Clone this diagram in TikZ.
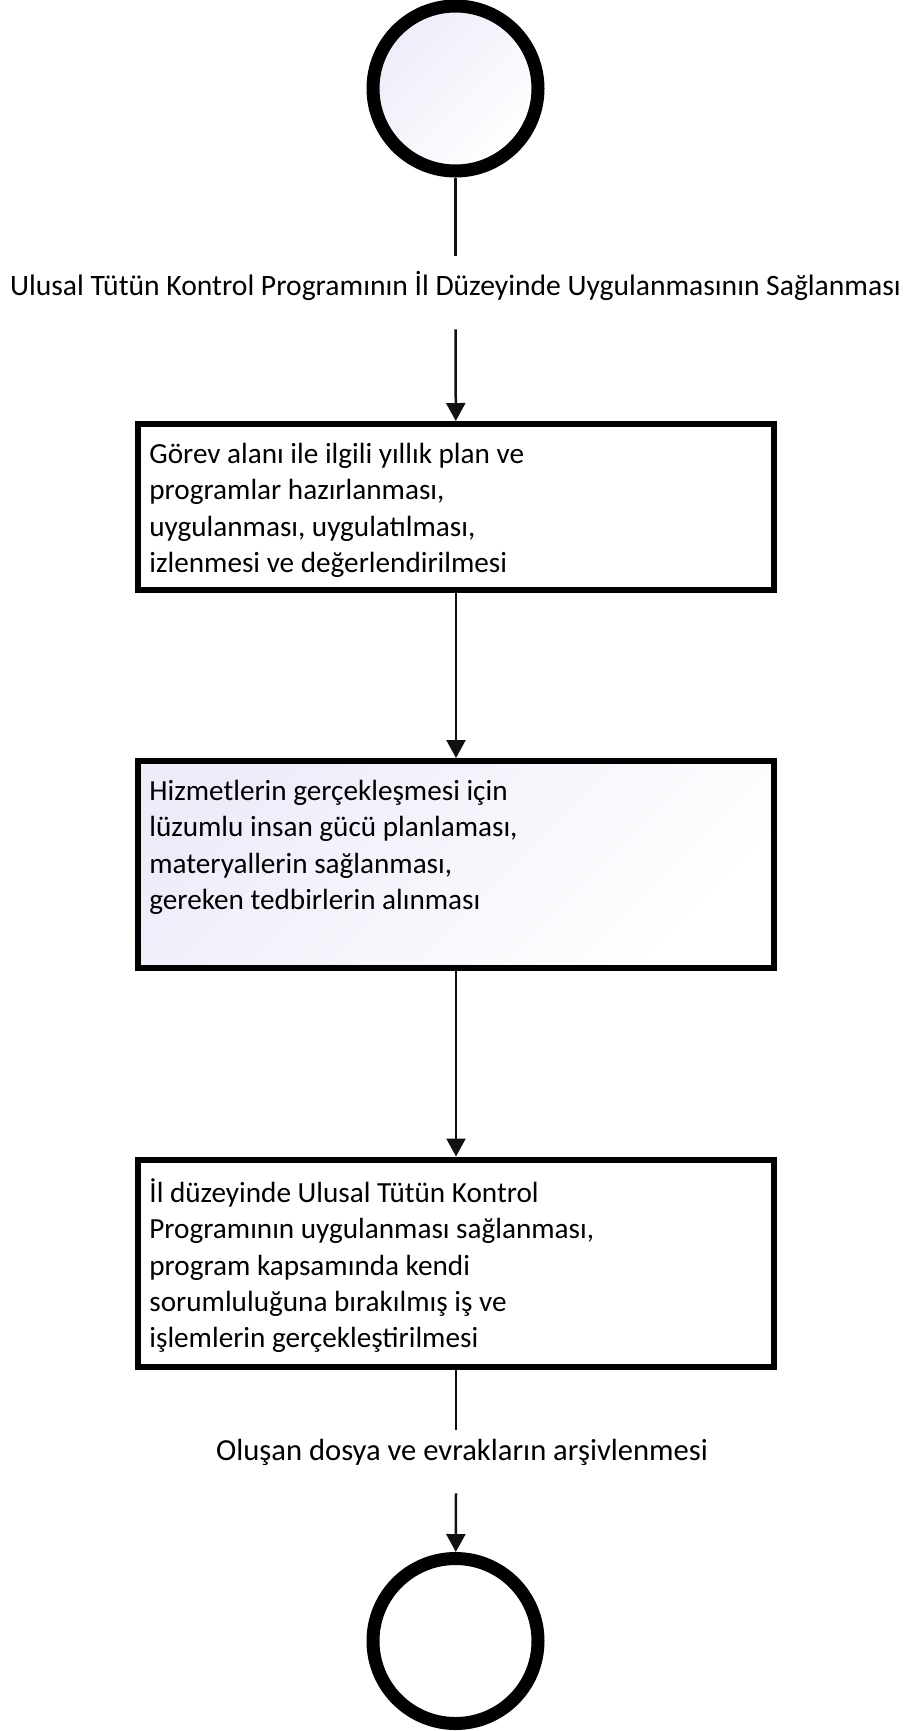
\documentclass[tikz,border=0pt]{standalone}
\usepackage{fontspec}
\setmainfont{Carlito}
\usepackage{tikz}
\usetikzlibrary{arrows.meta,positioning,shapes,calc}
\definecolor{shadelav}{RGB}{236,237,249}
\definecolor{linegray}{RGB}{17,17,17}

\begin{document}
\begin{tikzpicture}[
    x=0.5pt, y=-0.5pt,
    every node/.style={font=\fontsize{14.6}{18.1}\selectfont},
    startend/.style={circle, draw=black, line width=6.5pt, minimum size=82.5pt, inner sep=0pt},
    task/.style={rectangle, draw=black, line width=3pt, minimum width=318pt, inner sep=0pt},
    tasktext/.style={anchor=north west, align=left, inner sep=0pt, execute at begin node=\strut},
    steplabel/.style={inner sep=0pt, text height=10pt},
    flow/.style={line width=1.25pt, linegray},
    aflow/.style={-{Triangle[length=9pt,width=9.5pt]}, line width=1.25pt, linegray}
]
\useasboundingbox (0,0) rectangle (904,1731);

% Start and end events
\node[startend, top color=shadelav, bottom color=white, shading angle=45] (start) at (455.5,88.5) {};
\node[startend, fill=white] (finish) at (455.5,1641) {};

% Process steps
\node[task, minimum height=83pt, fill=white] (b1) at (456,507) {};
\node[task, minimum height=103.5pt, top color=shadelav, bottom color=white, shading angle=45] (b2) at (456,864.5) {};
\node[task, minimum height=103.5pt, fill=white] (b3) at (456,1263) {};

\node[tasktext] (t1) at ([shift={(14,22)}]b1.north west) {Görev alanı ile ilgili yıllık plan ve\\programlar hazırlanması,\\uygulanması, uygulatılması,\\izlenmesi ve değerlendirilmesi};
\node[tasktext] (t2) at ([shift={(14,22)}]b2.north west) {Hizmetlerin gerçekleşmesi için\\lüzumlu insan gücü planlaması,\\materyallerin sağlanması,\\gereken tedbirlerin alınması};
\node[tasktext] (t3) at ([shift={(14,22)}]b3.north west) {İl düzeyinde Ulusal Tütün Kontrol\\Programının uygulanması sağlanması,\\program kapsamında kendi\\sorumluluğuna bırakılmış iş ve\\işlemlerin gerçekleştirilmesi};

% Flow labels
\node[steplabel, minimum height=36.5pt, text depth=7.5pt, font=\fontsize{14.8}{18}\selectfont] (l1) at (455.5,292.5) {Ulusal Tütün Kontrol Programının İl Düzeyinde Uygulanmasının Sağlanması};
\node[steplabel, minimum height=31.5pt, text depth=11.3pt, font=\fontsize{15.3}{18}\selectfont] (l2) at (462,1461.5) {Oluşan dosya ve evrakların arşivlenmesi};

% Connectors
\draw[flow] (start) -- (l1);
\draw[aflow] (l1) -- (b1);
\draw[aflow] (b1) -- (b2);
\draw[aflow] (b2) -- (b3);
\draw[flow] (b3.south) -- (b3.south |- l2.north);
\draw[aflow] (b3.south |- l2.south) -- (finish);

\end{tikzpicture}
\end{document}
